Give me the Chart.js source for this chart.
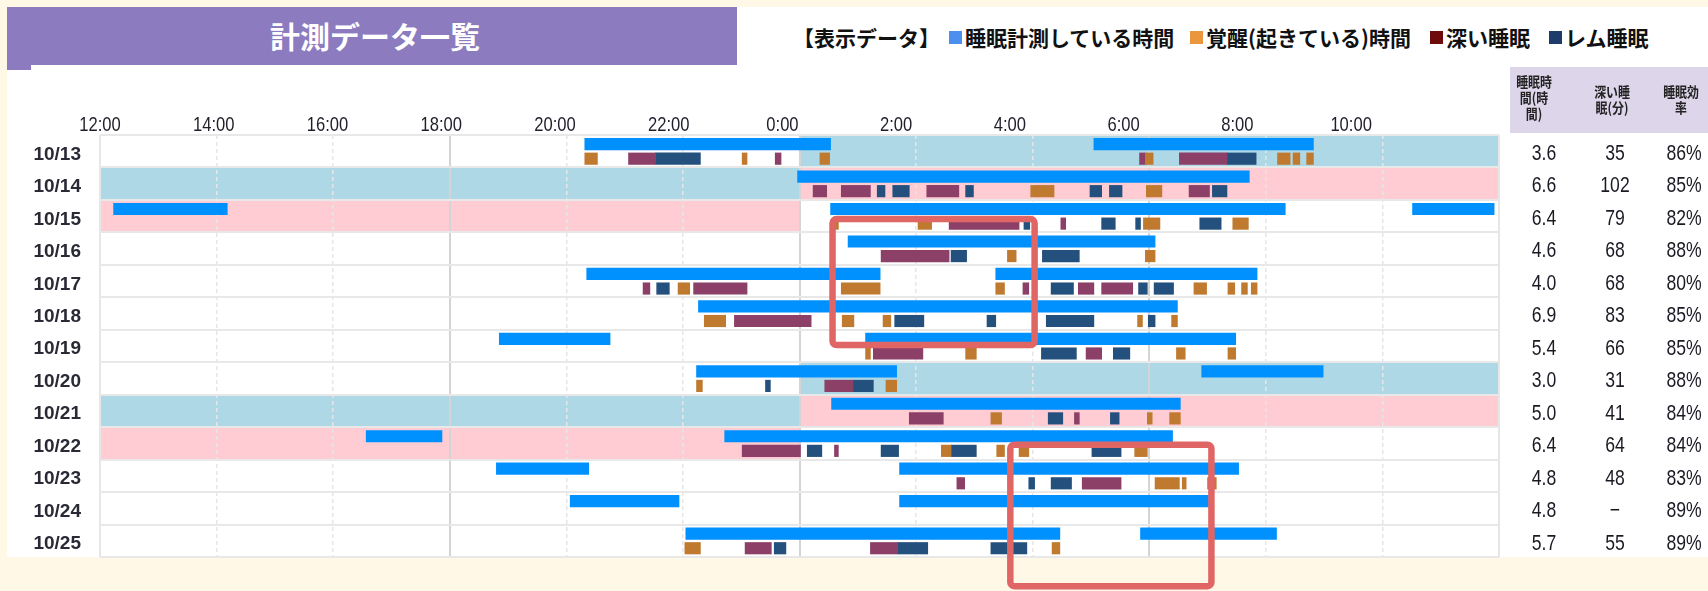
<!DOCTYPE html>
<html lang="ja">
<head>
<meta charset="utf-8">
<title>計測データ一覧</title>
<script src="https://cdn.jsdelivr.net/npm/chart.js@4.4.1/dist/chart.umd.min.js"></script>
<style>
  html, body { margin: 0; padding: 0; }
  body {
    width: 1708px; height: 591px; position: relative; overflow: hidden;
    background: #FFF8E7;
    font-family: "Noto Sans CJK JP", sans-serif;
  }
  #card { position: absolute; left: 7px; top: 7px; width: 1701px; height: 550px; background: #fff; }
  #banner {
    position: absolute; left: 7px; top: 7px; width: 730px; height: 58px;
    background: #8C7BBF; color: #fff; font-size: 30px; line-height: 56px; text-align: center;
    font-weight: bold; padding-left: 6px; box-sizing: border-box;
  }
  #banner::after {
    content: ""; position: absolute; left: 0; top: 58px; width: 24px; height: 5px; background: #8C7BBF;
  }
  #legend { position: absolute; left: 0; top: 24px; height: 26px; font-size: 21px; line-height: 26px; color: #111; font-weight: bold; }
  #legend span { position: absolute; top: 0; white-space: nowrap; }
  #legend .swatch { top: 7px; width: 13px; height: 13px; }
  #chart { position: absolute; left: 0; top: 0; }
</style>
</head>
<body>
<div id="card"></div>
<div id="banner">計測データ一覧</div>
<div id="legend"></div>
<canvas id="chart" width="1708" height="591"></canvas>
<script>
// Rows of the sleep log (each row runs from 12:00 the day before to 12:00 of that date)
const dates = ['10/13', '10/14', '10/15', '10/16', '10/17', '10/18', '10/19',
               '10/20', '10/21', '10/22', '10/23', '10/24', '10/25'];

// Summary columns
const sleepHours  = [3.6, 6.6, 6.4, 4.6, 4.0, 6.9, 5.4, 3.0, 5.0, 6.4, 4.8, 4.8, 5.7];
const deepMinutes = [35, 102, 79, 68, 68, 83, 66, 31, 41, 64, 48, null, 55];
const efficiency  = [86, 85, 82, 88, 80, 85, 85, 88, 84, 84, 83, 89, 89];
const tableHeaders = [['睡眠時', '間(時', '間)'], ['深い睡', '眠(分)'], ['睡眠効', '率']];

// Weekend shading: 'pm' = 12:00-24:00 half of the row, 'am' = 0:00-12:00 half
const saturdayHalves = [['10/13', 'am'], ['10/14', 'pm'], ['10/20', 'am'], ['10/21', 'pm']];
const sundayHalves   = [['10/14', 'am'], ['10/15', 'pm'], ['10/21', 'am'], ['10/22', 'pm']];

// Measurement periods [date, start, end]
const measuring = [
  ['10/13', '20:19', '0:32'], ['10/13', '5:03', '8:49'],
  ['10/14', '23:58', '7:43'],
  ['10/15', '12:14', '14:11'], ['10/15', '0:32', '8:20'], ['10/15', '10:31', '11:55'],
  ['10/16', '0:50', '6:06'],
  ['10/17', '20:21', '1:23'], ['10/17', '3:22', '7:51'],
  ['10/18', '22:16', '6:29'],
  ['10/19', '18:51', '20:45'], ['10/19', '1:08', '7:29'],
  ['10/20', '22:14', '1:40'], ['10/20', '6:54', '8:59'],
  ['10/21', '0:33', '6:32'],
  ['10/22', '16:34', '17:52'], ['10/22', '22:43', '6:24'],
  ['10/23', '18:48', '20:23'], ['10/23', '1:43', '7:32'],
  ['10/24', '20:04', '21:56'], ['10/24', '1:43', '7:01'],
  ['10/25', '22:03', '4:28'], ['10/25', '5:51', '8:11']
];

// Awake periods
const awake = [
  ['10/13', '20:19', '20:32'], ['10/13', '23:01', '23:06'], ['10/13', '0:21', '0:31'], ['10/13', '5:56', '6:04'],
  ['10/13', '8:12', '8:25'], ['10/13', '8:28', '8:35'], ['10/13', '8:42', '8:49'],
  ['10/14', '3:58', '4:22'], ['10/14', '5:57', '6:13'],
  ['10/15', '0:36', '0:40'], ['10/15', '2:02', '2:16'], ['10/15', '5:54', '6:11'], ['10/15', '7:26', '7:42'],
  ['10/16', '3:34', '3:43'], ['10/16', '5:56', '6:06'],
  ['10/17', '21:55', '22:07'], ['10/17', '0:43', '1:23'], ['10/17', '3:22', '3:31'], ['10/17', '6:46', '6:59'],
  ['10/17', '7:21', '7:28'], ['10/17', '7:35', '7:41'], ['10/17', '7:45', '7:51'],
  ['10/18', '22:22', '22:44'], ['10/18', '0:44', '0:56'], ['10/18', '1:26', '1:34'], ['10/18', '5:48', '5:53'], ['10/18', '6:23', '6:29'],
  ['10/19', '1:08', '1:13'], ['10/19', '2:51', '3:02'], ['10/19', '6:28', '6:37'], ['10/19', '7:21', '7:29'],
  ['10/20', '22:14', '22:20'], ['10/20', '1:29', '1:40'],
  ['10/21', '3:17', '3:28'], ['10/21', '5:58', '6:03'], ['10/21', '6:21', '6:32'],
  ['10/22', '2:26', '2:36'], ['10/22', '3:23', '3:31'], ['10/22', '3:46', '3:56'], ['10/22', '5:45', '5:58'],
  ['10/23', '6:06', '6:31'], ['10/23', '6:34', '6:38'], ['10/23', '7:00', '7:09'],
  ['10/25', '22:02', '22:18'], ['10/25', '4:20', '4:28']
];

// Deep sleep periods
const deep = [
  ['10/13', '21:04', '21:32'], ['10/13', '23:35', '23:41'], ['10/13', '5:50', '5:56'], ['10/13', '6:31', '7:20'],
  ['10/14', '0:14', '0:28'], ['10/14', '0:43', '1:13'], ['10/14', '2:11', '2:44'], ['10/14', '6:41', '7:02'],
  ['10/15', '2:34', '3:46'], ['10/15', '4:29', '4:34'],
  ['10/16', '1:24', '2:34'],
  ['10/17', '21:19', '21:26'], ['10/17', '22:11', '23:06'], ['10/17', '3:50', '3:56'], ['10/17', '4:47', '5:03'], ['10/17', '5:11', '5:43'],
  ['10/18', '22:53', '0:12'],
  ['10/19', '1:16', '2:07'], ['10/19', '4:55', '5:11'],
  ['10/20', '0:26', '0:55'],
  ['10/21', '1:53', '2:28'], ['10/21', '4:43', '4:48'],
  ['10/22', '23:01', '0:01'], ['10/22', '0:36', '0:40'],
  ['10/23', '2:42', '2:50'], ['10/23', '4:51', '5:31'],
  ['10/25', '23:04', '23:31'], ['10/25', '1:13', '1:41']
];

// REM sleep periods
const rem = [
  ['10/13', '21:32', '22:18'], ['10/13', '7:20', '7:50'],
  ['10/14', '1:20', '1:28'], ['10/14', '1:36', '1:53'], ['10/14', '2:51', '2:59'], ['10/14', '4:59', '5:11'],
  ['10/14', '5:19', '5:32'], ['10/14', '7:05', '7:20'],
  ['10/15', '3:51', '3:57'], ['10/15', '5:11', '5:25'], ['10/15', '5:46', '5:51'], ['10/15', '6:52', '7:14'],
  ['10/16', '2:36', '2:52'], ['10/16', '4:10', '4:48'],
  ['10/17', '21:33', '21:46'], ['10/17', '4:19', '4:42'], ['10/17', '5:49', '5:58'], ['10/17', '6:05', '6:25'],
  ['10/18', '1:38', '2:08'], ['10/18', '3:13', '3:22'], ['10/18', '4:14', '5:03'], ['10/18', '5:59', '6:06'],
  ['10/19', '4:09', '4:45'], ['10/19', '5:23', '5:40'],
  ['10/20', '23:25', '23:30'], ['10/20', '0:55', '1:16'],
  ['10/21', '4:16', '4:31'], ['10/21', '5:20', '5:29'],
  ['10/22', '0:08', '0:23'], ['10/22', '1:24', '1:42'], ['10/22', '2:36', '3:02'], ['10/22', '5:01', '5:31'],
  ['10/23', '3:56', '4:02'], ['10/23', '4:19', '4:40'],
  ['10/25', '23:34', '23:46'], ['10/25', '1:41', '2:12'], ['10/25', '3:17', '3:54']
];

// Highlighted regions [start, end, from row, to row]
const highlights = [
  ['0:34', '4:02', 2.59, 6.47],
  ['3:37', '7:04', 9.54, 13.9]
];

const legendPrefix = '【表示データ】';
const legendSwatches = ['#4D8FEF', '#EA963C', '#6E0B0B', '#1E3C69'];

// Clock time -> hours on a 12:00..36:00 axis (times before noon belong to the next morning)
function toAxis(clock) {
  const [h, m] = clock.split(':').map(Number);
  const v = h + m / 60;
  return v < 12 ? v + 24 : v;
}
const clockLabel = v => (v < 36 ? `${v % 24}:00` : '');

const HALF_RANGE = { pm: [12, 24], am: [24, 36] };
const MEASURE_POS = 0.28;   // position of the measuring bar inside a row
const STAGE_POS = 0.73;     // position of the sleep-stage strip inside a row

const spans = (list, pos) => list.map(([d, from, to]) => ({
  y: dates.indexOf(d) + pos,
  x: [toAxis(from), toAxis(to)]
}));

const weekendShading = {
  id: 'weekendShading',
  beforeDraw(chart) {
    const { ctx, scales: { x, y } } = chart;
    ctx.save();
    for (const [list, color] of [[saturdayHalves, '#AED8E6'], [sundayHalves, '#FFCCD4']]) {
      ctx.fillStyle = color;
      for (const [d, half] of list) {
        const row = dates.indexOf(d);
        const [from, to] = HALF_RANGE[half];
        const l = x.getPixelForValue(from), r = x.getPixelForValue(to);
        const t = y.getPixelForValue(row), b = y.getPixelForValue(row + 1);
        ctx.fillRect(l, t, r - l, b - t);
      }
    }
    ctx.restore();
  }
};

// Condensed text helper
function narrowText(ctx, text, x, y, squeeze) {
  ctx.save();
  ctx.translate(x, y);
  ctx.scale(squeeze, 1);
  ctx.fillText(text, 0, 0);
  ctx.restore();
}

// Time labels along the top, placed on the label axis ticks in a condensed face
const narrowTimeLabels = {
  id: 'narrowTimeLabels',
  afterDraw(chart) {
    const s = chart.scales.xLabels;
    const { ctx, chartArea } = chart;
    ctx.save();
    ctx.font = '21px "Liberation Sans"';
    ctx.fillStyle = '#1f1f2a';
    ctx.textAlign = 'center';
    ctx.textBaseline = 'alphabetic';
    s.ticks.forEach(t => {
      const text = clockLabel(t.value);
      if (text) narrowText(ctx, text, s.getPixelForValue(t.value), chartArea.top - 4, 0.79);
    });
    ctx.restore();
  }
};

const HEADER_CENTERS = [35, 113, 182];
const VALUE_CENTERS = [45, 116, 185];

const summaryTable = {
  id: 'summaryTable',
  afterDraw(chart) {
    const { ctx, chartArea, scales: { y }, width } = chart;
    const left = chartArea.right + 11;
    ctx.save();
    ctx.fillStyle = '#DDD5EA';
    ctx.fillRect(left, 67, width - left, 66);
    ctx.textAlign = 'center';
    ctx.textBaseline = 'middle';
    ctx.fillStyle = '#222';
    ctx.font = 'bold 14px "Noto Sans CJK JP"';
    tableHeaders.forEach((lines, c) => {
      const cx = chartArea.right + HEADER_CENTERS[c];
      const top = (lines.length === 3 ? 98 : 100) - (lines.length - 1) * 8;
      lines.forEach((t, k) => narrowText(ctx, t, cx, top + k * 16, 0.85));
    });
    ctx.font = '22px "Liberation Sans"';
    ctx.fillStyle = '#1a1a24';
    ctx.textBaseline = 'alphabetic';
    dates.forEach((d, i) => {
      const base = y.getPixelForValue(i + 0.77);
      const cells = [
        sleepHours[i].toFixed(1),
        deepMinutes[i] == null ? '−' : String(deepMinutes[i]),
        efficiency[i] + '%'
      ];
      cells.forEach((t, c) => narrowText(ctx, t, chartArea.right + VALUE_CENTERS[c], base, 0.8));
    });
    ctx.restore();
  }
};

const highlightFrames = {
  id: 'highlightFrames',
  afterDraw(chart) {
    const { ctx, scales: { x, y } } = chart;
    ctx.save();
    ctx.strokeStyle = '#E06666';
    ctx.lineWidth = 6.5;
    for (const [from, to, r0, r1] of highlights) {
      const l = x.getPixelForValue(toAxis(from)), r = x.getPixelForValue(toAxis(to));
      const t = y.getPixelForValue(r0), b = y.getPixelForValue(r1);
      ctx.beginPath();
      ctx.roundRect(l, t, r - l, b - t, 4);
      ctx.stroke();
    }
    ctx.restore();
  }
};

const barCommon = { barThickness: 11.5, grouped: false, borderWidth: 0, xAxisID: 'x', yAxisID: 'y' };

const chart = new Chart(document.getElementById('chart'), {
  type: 'bar',
  data: {
    datasets: [
      { label: '睡眠計測している時間', data: spans(measuring, MEASURE_POS), backgroundColor: '#0091FF', ...barCommon },
      { label: '覚醒(起きている)時間', data: spans(awake, STAGE_POS), backgroundColor: '#C07A30', ...barCommon },
      { label: '深い睡眠', data: spans(deep, STAGE_POS), backgroundColor: '#8C4068', ...barCommon },
      { label: 'レム睡眠', data: spans(rem, STAGE_POS), backgroundColor: '#23507D', ...barCommon }
    ]
  },
  options: {
    indexAxis: 'y',
    responsive: false,
    devicePixelRatio: 1,
    animation: false,
    layout: { padding: { left: 0, right: 209, top: 95, bottom: 34 } },
    plugins: { legend: { display: false }, tooltip: { enabled: false } },
    scales: {
      x: {
        type: 'linear', position: 'top', min: 12, max: 36,
        ticks: { display: false, stepSize: 2 },
        grid: {
          drawTicks: false,
          color: c => (c.tick && c.tick.value % 6 === 0 && c.tick.value > 12 && c.tick.value < 36) ? '#d4d4d4' : '#e6e6e6',
          lineWidth: c => (c.tick && c.tick.value % 6 === 0) ? 2 : 1.5
        },
        border: { display: false, dash: c => (c.tick && c.tick.value % 6 === 0) ? [] : [4, 3] },
        afterFit: s => { s.height = 0; }
      },
      // label axis for the clock times (its span is slightly wider than the grid's)
      xLabels: {
        type: 'linear', position: 'top', min: 12, max: 36.6,
        grid: { display: false, drawTicks: false },
        border: { display: false },
        ticks: { display: false, stepSize: 2, autoSkip: false, callback: clockLabel },
        afterFit: s => { s.height = 40; }
      },
      y: {
        type: 'linear', position: 'left', min: 0, max: 13, reverse: true, offset: false,
        ticks: { display: false, stepSize: 1 },
        grid: { offset: false, drawTicks: false, color: '#e8e8e8', lineWidth: 2 },
        border: { display: false },
        afterFit: s => { s.width = 0; }
      },
      yDates: {
        type: 'linear', position: 'left', min: 0, max: 13, reverse: true, offset: false,
        grid: { display: false, drawTicks: false, offset: false },
        border: { display: false },
        afterBuildTicks: s => { s.ticks = dates.map((_, i) => ({ value: i + 0.6 })); },
        ticks: {
          autoSkip: false, padding: 19, color: '#2a2a36',
          font: { family: '"Liberation Sans"', size: 19, weight: 'bold' },
          callback: (v, i) => dates[i]
        },
        afterFit: s => { s.width = 100; }
      }
    }
  },
  plugins: [weekendShading, narrowTimeLabels, summaryTable, highlightFrames]
});

// Legend built from the dataset labels
const LEGEND_PREFIX_X = 793;
const LEGEND_SWATCH_X = [949, 1190, 1430, 1549];
const legend = document.getElementById('legend');
const prefix = document.createElement('span');
prefix.textContent = legendPrefix;
prefix.style.left = LEGEND_PREFIX_X + 'px';
legend.append(prefix);
chart.data.datasets.forEach((ds, i) => {
  const sw = document.createElement('span');
  sw.className = 'swatch';
  sw.style.background = legendSwatches[i];
  sw.style.left = LEGEND_SWATCH_X[i] + 'px';
  const lb = document.createElement('span');
  lb.textContent = ds.label;
  lb.style.left = (LEGEND_SWATCH_X[i] + 16) + 'px';
  legend.append(sw, lb);
});
</script>
</body>
</html>
